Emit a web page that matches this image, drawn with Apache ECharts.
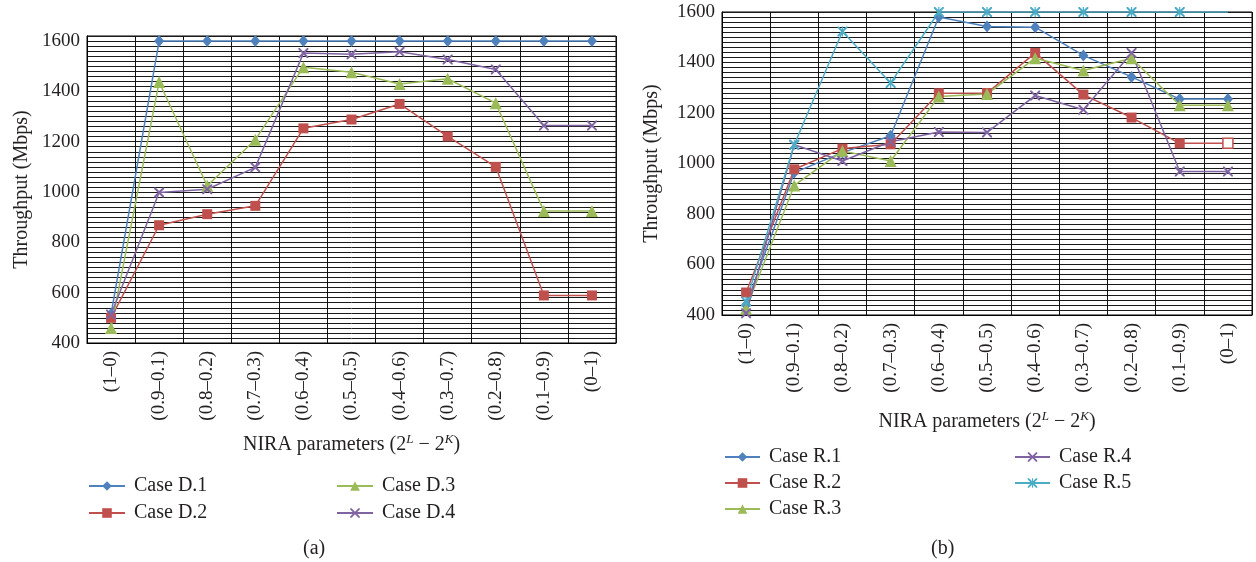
<!DOCTYPE html>
<html>
<head>
<meta charset="utf-8">
<script src="https://cdn.jsdelivr.net/npm/echarts@6/dist/echarts.min.js"></script>
<style>html,body{margin:0;padding:0;background:#fff}#c{width:1256px;height:562px}</style>
</head>
<body>
<div id="c"></div>
<script>
const categories = ['(1–0)','(0.9–0.1)','(0.8–0.2)','(0.7–0.3)','(0.6–0.4)','(0.5–0.5)','(0.4–0.6)','(0.3–0.7)','(0.2–0.8)','(0.1–0.9)','(0–1)'];
const yTickLabels = [400, 600, 800, 1000, 1200, 1400, 1600];

const caseD1 = [515, 1600, 1600, 1600, 1600, 1600, 1600, 1600, 1600, 1600, 1600];
const caseD2 = [500, 868, 912, 945, 1253, 1288, 1350, 1221, 1100, 589, 589];
const caseD3 = [460, 1437, 1025, 1208, 1496, 1476, 1429, 1450, 1353, 925, 925];
const caseD4 = [513, 998, 1011, 1098, 1552, 1547, 1557, 1527, 1487, 1264, 1264];

const caseR1 = [440, 964, 1043, 1110, 1580, 1543, 1540, 1428, 1343, 1255, 1255];
const caseR2 = [489, 977, 1059, 1076, 1278, 1279, 1438, 1273, 1182, 1080, 1080];
const caseR3 = [425, 913, 1050, 1010, 1265, 1275, 1417, 1368, 1417, 1231, 1231];
const caseR4 = [407, 1074, 1010, 1086, 1125, 1123, 1269, 1213, 1438, 968, 968];
const caseR5 = [453, 1074, 1523, 1319, 1600, 1600, 1600, 1600, 1600, 1600, 1600];

const FONT = 'Liberation Serif';
const TXT = '#231f20';
const C_BLUE = '#4F81BD', C_RED = '#C0504D', C_GREEN = '#9BBB59', C_PURPLE = '#8064A2', C_CYAN = '#4BACC6';
const X_SYM = 'path://M0,0 L1.4,0 L5,3.6 L8.6,0 L10,0 L10,1.4 L6.4,5 L10,8.6 L10,10 L8.6,10 L5,6.4 L1.4,10 L0,10 L0,8.6 L3.6,5 L0,1.4 Z';
const STAR_SYM = X_SYM + ' M4.4,0 L5.6,0 L5.6,10 L4.4,10 Z';

function xAxisCfg(gi, gap) {
  return {
    type: 'category', gridIndex: gi, data: categories, boundaryGap: true,
    axisLine: { show: true, lineStyle: { color: '#000', width: 1 } },
    axisTick: { show: false },
    splitLine: { show: true, lineStyle: { color: '#111', width: 1 } },
    axisLabel: { rotate: 90, interval: 0, fontFamily: FONT, fontSize: 19, color: TXT, margin: 8 },
    name: '{t|NIRA parameters (2}{s|L}{t| − 2}{s|K}{t|)}',
    nameLocation: 'middle', nameGap: gap,
    nameTextStyle: {
      rich: {
        t: { fontFamily: FONT, fontSize: 20, color: TXT },
        s: { fontFamily: FONT, fontSize: 13, fontStyle: 'italic', color: TXT, verticalAlign: 'top', padding: [0, 0, 10, 0] }
      }
    }
  };
}
function yAxisCfg(gi, max, gap) {
  return {
    type: 'value', gridIndex: gi, min: 400, max: max, interval: 20,
    axisLine: { show: true, lineStyle: { color: '#000', width: 1 } },
    axisTick: { show: false },
    splitLine: { show: true, lineStyle: { color: '#1a1a1a', width: 1 } },
    axisLabel: {
      fontFamily: FONT, fontSize: 19, color: TXT, margin: 7,
      formatter: v => yTickLabels.indexOf(Math.round(v)) >= 0 ? String(Math.round(v)) : ''
    },
    name: 'Throughput (Mbps)', nameLocation: 'middle', nameGap: gap,
    nameTextStyle: { fontFamily: FONT, fontSize: 20, color: TXT }
  };
}
function lineSeries(name, data, color, symbol, size, gi) {
  return {
    type: 'line', name: name, data: data, xAxisIndex: gi, yAxisIndex: gi,
    symbol: symbol, symbolSize: size, showSymbol: true,
    itemStyle: { color: color },
    lineStyle: { color: color, width: 1.5 },
    emphasis: { disabled: true }
  };
}

const r2Data = caseR2.map((v, i) => i === caseR2.length - 1
  ? { value: v, itemStyle: { color: '#fff', borderColor: C_RED, borderWidth: 1.5 } } : v);
const r5Data = caseR5.map((v, i) => i === caseR5.length - 1
  ? { value: v, symbol: 'none' } : v);

function legendCfg(left, top, names, gap, w) {
  return {
    left: left, top: top, orient: 'vertical', data: names, itemGap: gap,
    itemWidth: w, itemHeight: 12, selectedMode: false,
    textStyle: { fontFamily: FONT, fontSize: 20, color: TXT, padding: [0, 0, 0, 4] }
  };
}

const chart = echarts.init(document.getElementById('c'), null, { renderer: 'canvas' });
chart.setOption({
  animation: false,
  backgroundColor: '#fff',
  grid: [
    { left: 87, top: 36, width: 529, height: 307, show: true, borderColor: '#000', borderWidth: 1, backgroundColor: 'transparent' },
    { left: 722, top: 12, width: 530, height: 303, show: true, borderColor: '#000', borderWidth: 1, backgroundColor: 'transparent' }
  ],
  xAxis: [xAxisCfg(0, 90), xAxisCfg(1, 95)],
  yAxis: [yAxisCfg(0, 1620, 55), yAxisCfg(1, 1600, 60)],
  legend: [
    legendCfg(83, 471, ['Case D.1', 'Case D.2'], 7, 36),
    legendCfg(331, 471, ['Case D.3', 'Case D.4'], 7, 36),
    legendCfg(719, 442, ['Case R.1', 'Case R.2', 'Case R.3'], 6, 35),
    legendCfg(1009, 442, ['Case R.4', 'Case R.5'], 6, 35)
  ],
  graphic: [
    { type: 'text', left: 303, top: 539, style: { text: '(a)', font: '20px "Liberation Serif"', fill: TXT } },
    { type: 'text', left: 931, top: 539, style: { text: '(b)', font: '20px "Liberation Serif"', fill: TXT } }
  ],
  series: [
    lineSeries('Case D.1', caseD1, C_BLUE, 'diamond', [10, 12], 0),
    lineSeries('Case D.2', caseD2, C_RED, 'rect', 10, 0),
    lineSeries('Case D.3', caseD3, C_GREEN, 'triangle', 12, 0),
    lineSeries('Case D.4', caseD4, C_PURPLE, X_SYM, 10, 0),
    lineSeries('Case R.1', caseR1, C_BLUE, 'diamond', [10, 12], 1),
    lineSeries('Case R.2', r2Data, C_RED, 'rect', 10, 1),
    lineSeries('Case R.3', caseR3, C_GREEN, 'triangle', 12, 1),
    lineSeries('Case R.4', caseR4, C_PURPLE, X_SYM, 10, 1),
    lineSeries('Case R.5', r5Data, C_CYAN, STAR_SYM, 10, 1)
  ]
});
</script>
</body>
</html>
